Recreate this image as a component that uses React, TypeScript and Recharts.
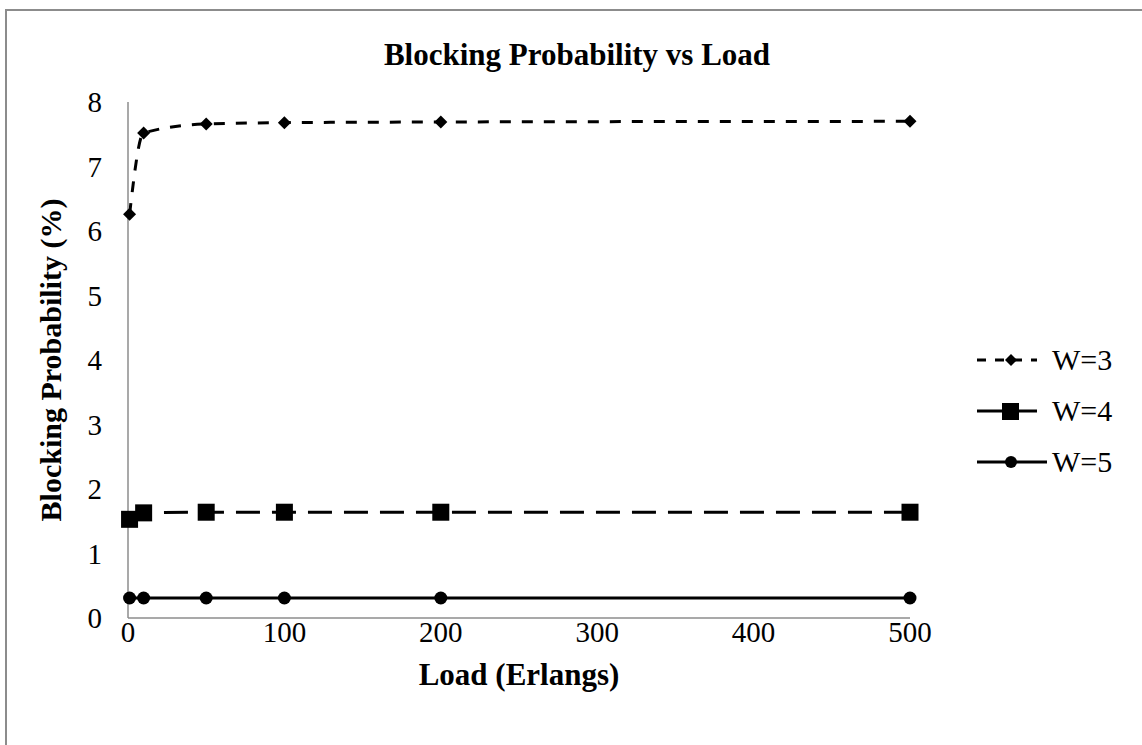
import { Line, LineChart, XAxis, YAxis } from "recharts";

// load in Erlangs
const loads = [1, 10, 50, 100, 200, 500];
// blocking probability (%) per wavelength count
const w3 = [6.26, 7.52, 7.66, 7.68, 7.69, 7.7];
const w4 = [1.53, 1.63, 1.64, 1.64, 1.64, 1.64];
const w5 = [0.31, 0.31, 0.31, 0.31, 0.31, 0.31];

const xTicks = [0, 100, 200, 300, 400, 500];
const yTicks = [0, 1, 2, 3, 4, 5, 6, 7, 8];

const data = loads.map((load, i) => ({ load, w3: w3[i], w4: w4[i], w5: w5[i] }));

const FONT = "'Liberation Serif', 'Times New Roman', serif";
const AXIS = "#8c8c8c";

const Diamond = (props: any) => {
  const { cx, cy, index } = props;
  const r = 6.5;
  return (
    <path
      key={`d${index}`}
      d={`M${cx},${cy - r}L${cx + r},${cy}L${cx},${cy + r}L${cx - r},${cy}Z`}
      fill="#000"
    />
  );
};

const Square = (props: any) => {
  const { cx, cy, index } = props;
  const s = 8.5;
  return <rect key={`s${index}`} x={cx - s} y={cy - s} width={s * 2} height={s * 2} fill="#000" />;
};

const Dot = (props: any) => {
  const { cx, cy, index } = props;
  return <circle key={`c${index}`} cx={cx} cy={cy} r={6.5} fill="#000" />;
};

const legendItems = [
  { label: "W=3", dash: "9 9", marker: "diamond" },
  { label: "W=4", dash: undefined, marker: "square" },
  { label: "W=5", dash: undefined, marker: "circle" },
];

// legend sits to the right of the plot, outside the chart offsets
const ChartLegend = () => (
  <div
    style={{
      position: "absolute",
      left: 975,
      top: 334,
      fontFamily: FONT,
      fontSize: 30,
      color: "#000",
    }}
  >
    {legendItems.map((it) => (
      <div key={it.label} style={{ display: "flex", alignItems: "center", height: 51 }}>
        <svg width={76} height={30} style={{ display: "block" }}>
          <line
            x1={2}
            x2={it.marker === "circle" ? 72 : 62}
            y1={15}
            y2={15}
            stroke="#000"
            strokeWidth={3}
            strokeDasharray={it.dash}
          />
          {it.marker === "diamond" && <path d="M36,9L42,15L36,21L30,15Z" fill="#000" />}
          {it.marker === "square" && <rect x={27} y={7} width={17} height={17} fill="#000" />}
          {it.marker === "circle" && <circle cx={36} cy={15} r={6} fill="#000" />}
        </svg>
        <span style={{ marginLeft: 1 }}>{it.label}</span>
      </div>
    ))}
  </div>
);

export default function App() {
  return (
    <div
      style={{
        position: "absolute",
        left: 0,
        top: 0,
        width: 1142,
        height: 745,
        background: "#fff",
        overflow: "hidden",
        fontFamily: FONT,
      }}
    >
      <div
        style={{
          position: "absolute",
          left: 5,
          top: 9,
          width: 1200,
          height: 800,
          borderTop: "2px solid #8c8c8c",
          borderLeft: "2px solid #8c8c8c",
        }}
      />
      <div
        style={{
          position: "absolute",
          left: 0,
          width: 1142,
          top: 37,
          textAlign: "center",
          fontWeight: "bold",
          fontSize: 31,
          paddingLeft: 12,
          boxSizing: "border-box",
        }}
      >
        Blocking Probability vs Load
      </div>
      <LineChart
        width={1142}
        height={745}
        data={data}
        margin={{ top: 102, right: 232, bottom: 60, left: 68 }}
        style={{ position: "absolute", left: 0, top: 0 }}
      >
        <XAxis
          dataKey="load"
          type="number"
          domain={[0, 500]}
          ticks={xTicks}
          interval={0}
          axisLine={{ stroke: AXIS, strokeWidth: 1.5 }}
          tickLine={false}
          tick={{ fill: "#000", fontSize: 29, fontFamily: FONT }}
          tickMargin={-3}
          height={67}
          label={{
            value: "Load (Erlangs)",
            position: "insideBottom",
            offset: 0,
            style: { fill: "#000", fontSize: 31, fontWeight: "bold", fontFamily: FONT },
          }}
        />
        <YAxis
          type="number"
          domain={[0, 8]}
          ticks={yTicks}
          interval={0}
          axisLine={{ stroke: AXIS, strokeWidth: 1.5 }}
          tickLine={false}
          tick={{ fill: "#000", fontSize: 29, fontFamily: FONT }}
          tickMargin={20}
          width={60}
          label={{
            value: "Blocking Probability (%)",
            angle: -90,
            position: "insideLeft",
            offset: -18,
            style: { fill: "#000", fontSize: 30, fontWeight: "bold", fontFamily: FONT, textAnchor: "middle" },
          }}
        />
        <Line
          type="monotone"
          dataKey="w3"
          name="W=3"
          stroke="#000"
          strokeWidth={3}
          strokeDasharray="11 11"
          dot={Diamond}
          isAnimationActive={false}
        />
        <Line
          type="monotone"
          dataKey="w4"
          name="W=4"
          stroke="#000"
          strokeWidth={3}
          strokeDasharray="24 12"
          dot={Square}
          isAnimationActive={false}
        />
        <Line
          type="monotone"
          dataKey="w5"
          name="W=5"
          stroke="#000"
          strokeWidth={3}
          dot={Dot}
          isAnimationActive={false}
        />
      </LineChart>
      <ChartLegend />
    </div>
  );
}
